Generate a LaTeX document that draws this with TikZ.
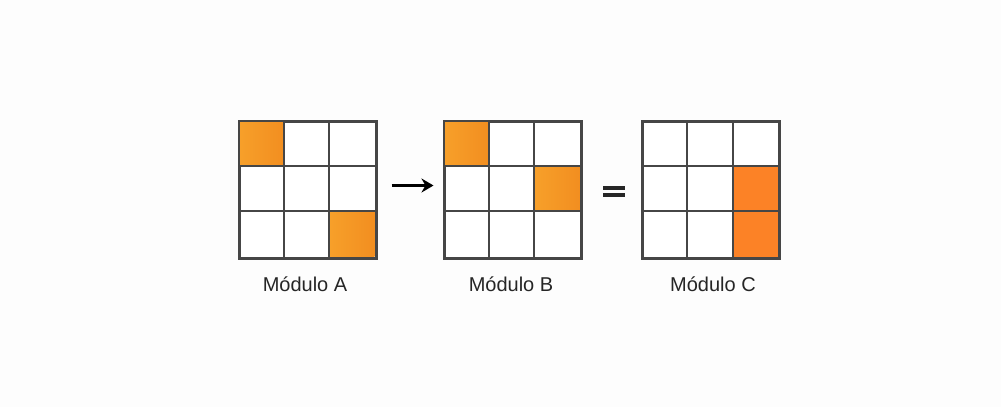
\documentclass[tikz,border=0pt]{standalone}
\usepackage{fontspec}
\setmainfont{Liberation Sans}
\usetikzlibrary{arrows.meta}
\definecolor{orA}{RGB}{247,160,42}
\definecolor{orB}{RGB}{242,142,32}
\definecolor{orC}{RGB}{252,130,38}
\definecolor{gridc}{RGB}{70,70,70}
\definecolor{bgc}{RGB}{253,253,253}
\tikzset{
  gridbox/.style={draw=gridc, line width=2pt, minimum size=136pt, inner sep=0pt, fill=white},
  gridline/.style={draw=gridc, line width=2pt},
  gradcell/.style={left color=orA, right color=orB},
  solidcell/.style={fill=orC},
  modlabel/.style={anchor=base, font=\fontsize{20}{24}\selectfont, text=black!85},
  flowarrow/.style={line width=3.5pt, -{Stealth[length=12pt,width=14pt]}},
  eqbar/.style={fill=black!85}
}
\newcommand\cellsize{45.333}
\begin{document}
\begin{tikzpicture}[x=1pt,y=-1pt]
\fill[bgc] (0,0) rectangle (1001,407);
\useasboundingbox (0,0) rectangle (1001,407);
% grid boxes
\node[gridbox] (A) at (307.5,189.5) {};
\node[gridbox] (B) at (512.5,189.5) {};
\node[gridbox] (C) at (711,189.5) {};
% coloured cells
\foreach \g/\i/\j/\st in {A/0/0/gradcell, A/2/2/gradcell, B/0/0/gradcell, B/2/1/gradcell, C/2/1/solidcell, C/2/2/solidcell}{
  \path[\st] ([xshift={\i*\cellsize pt}, yshift={-\j*\cellsize pt}]\g.north west) rectangle ++(\cellsize,\cellsize);
}
% grid lines
\foreach \g in {A,B,C}{
  \foreach \k in {1,2}{
    \draw[gridline] ([xshift={\k*\cellsize pt}]\g.north west) -- ([xshift={\k*\cellsize pt}]\g.south west);
    \draw[gridline] ([yshift={-\k*\cellsize pt}]\g.north west) -- ([yshift={-\k*\cellsize pt}]\g.north east);
  }
  \draw[gridline] (\g.north west) rectangle (\g.south east);
}
% arrow and equals
\coordinate (arrS) at ([xshift=15pt,yshift=4pt]A.east);
\coordinate (arrE) at ([xshift=-10pt,yshift=4pt]B.west);
\draw[flowarrow] (arrS) -- (arrE);
\fill[eqbar] (603,185.5) rectangle (625,189.5);
\fill[eqbar] (603,193) rectangle (625,197);
% labels
\node[modlabel] (la) at (305,291.5) {Módulo A};
\node[modlabel] (lb) at (511,291.5) {Módulo B};
\node[modlabel] (lc) at (713,291.5) {Módulo C};
\end{tikzpicture}
\end{document}
